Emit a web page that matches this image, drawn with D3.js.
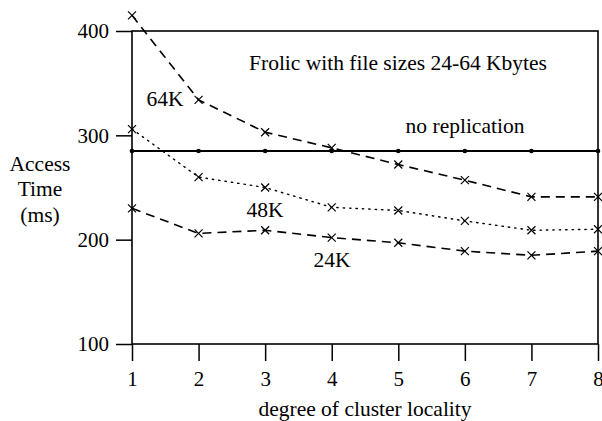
<!DOCTYPE html>
<html>
<head>
<meta charset="utf-8">
<script src="https://cdn.jsdelivr.net/npm/d3@7"></script>
<style>
  body { margin: 0; background: #fff; }
  text { font-family: 'Liberation Serif', 'Times New Roman', serif; fill: #000; }
</style>
</head>
<body>
<div id="chart"></div>
<script>
// data
let locality = [1, 2, 3, 4, 5, 6, 7, 8];
let noReplication = [285, 285, 285, 285, 285, 285, 285, 285];
let size64K = [415, 334, 303, 288, 272, 257, 241, 241];
let size48K = [306, 260, 250, 231, 228, 218, 209, 210];
let size24K = [230, 206, 209, 202, 197, 189, 185, 189];
let yTicks = [100, 200, 300, 400];

let margin = {top: 31, right: 4, bottom: 77, left: 132};
let width = 602 - margin.left - margin.right;
let height = 421 - margin.top - margin.bottom;

let svg = d3.select("#chart")
            .append("svg")
            .attr("width", 602)
            .attr("height", 421)
            .append("g")
            .attr("transform", "translate(" + margin.left + "," + margin.top + ")");

let x = d3.scaleLinear().domain([1, 8]).range([0, width]);
let y = d3.scaleLinear().domain([100, 400]).range([height, 0]);

// axes
let xAxis = svg.append("g")
   .attr("transform", "translate(0," + height + ")")
   .call(d3.axisBottom(x).tickValues(locality).tickFormat(d3.format("d")).tickSize(17).tickPadding(10));
let yAxis = svg.append("g")
   .call(d3.axisLeft(y).tickValues(yTicks).tickSize(16).tickPadding(7));
[xAxis, yAxis].forEach(a => {
  a.attr("font-family", null).attr("font-size", null);
  a.select(".domain").remove();
  a.selectAll("line").attr("stroke", "#000").attr("stroke-width", 1.5);
  a.selectAll("text").style("font-size", "21px");
});

// frame
svg.append("rect")
   .attr("width", width).attr("height", height)
   .attr("fill", "none").attr("stroke", "#000").attr("stroke-width", 1.6);

// series
let line = d3.line().x((d, i) => x(locality[i])).y(d => y(d));

function crosses(vals) {
  let s = 4;
  svg.append("g").selectAll("path")
     .data(vals).enter().append("path")
     .attr("d", (d, i) => {
       let cx = x(locality[i]), cy = y(d);
       return "M" + (cx - s) + "," + (cy - s) + "L" + (cx + s) + "," + (cy + s) +
              "M" + (cx - s) + "," + (cy + s) + "L" + (cx + s) + "," + (cy - s);
     })
     .attr("stroke", "#000").attr("stroke-width", 1.2);
}

svg.append("path").datum(noReplication).attr("d", line)
   .attr("fill", "none").attr("stroke", "#000").attr("stroke-width", 2);
svg.append("g").selectAll("circle")
   .data(noReplication).enter().append("circle")
   .attr("cx", (d, i) => x(locality[i])).attr("cy", d => y(d)).attr("r", 2.3);

svg.append("path").datum(size64K).attr("d", line)
   .attr("fill", "none").attr("stroke", "#000").attr("stroke-width", 1.6)
   .attr("stroke-dasharray", "9,6");
crosses(size64K);

svg.append("path").datum(size48K).attr("d", line)
   .attr("fill", "none").attr("stroke", "#000").attr("stroke-width", 1.4)
   .attr("stroke-dasharray", "1.4,5").attr("stroke-linecap", "round");
crosses(size48K);

svg.append("path").datum(size24K).attr("d", line)
   .attr("fill", "none").attr("stroke", "#000").attr("stroke-width", 1.6)
   .attr("stroke-dasharray", "9,6");
crosses(size24K);

// labels inside the plot
let root = d3.select("svg");
function label(t, cx, cy) {
  root.append("text").attr("x", cx).attr("y", cy).attr("dy", "0.35em")
      .attr("text-anchor", "middle").style("font-size", "21.5px").text(t);
}
label("Frolic with file sizes 24-64 Kbytes", 398, 62);
label("no replication", 465, 125);
label("64K", 165, 98);
label("48K", 265, 209);
label("24K", 332, 259);

// axis titles
label("degree of cluster locality", 365, 408);
label("Access", 40, 163);
label("Time", 40, 188);
label("(ms)", 40, 214);
</script>
</body>
</html>
